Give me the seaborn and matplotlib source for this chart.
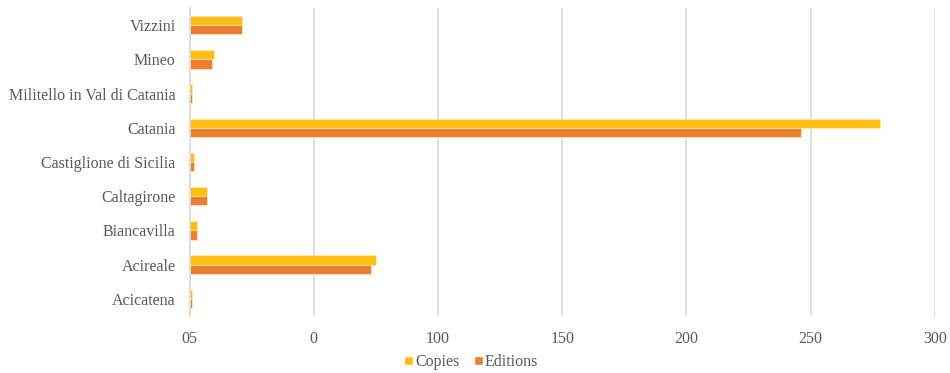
import matplotlib
matplotlib.use("Agg")
import matplotlib.pyplot as plt
import seaborn as sns
import pandas as pd
from matplotlib.patches import Patch

towns = ["Vizzini", "Mineo", "Militello in Val di Catania", "Catania",
         "Castiglione di Sicilia", "Caltagirone", "Biancavilla", "Acireale", "Acicatena"]
copies = [21, 10, 1, 278, 2, 7, 3, 75, 1]
editions = [21, 9, 1, 246, 2, 7, 3, 73, 1]
tick_values = [0, 50, 100, 150, 200, 250, 300]
tick_labels = ["05", "0", "100", "150", "200", "250", "300"]

df = pd.DataFrame({
    "town": towns * 2,
    "value": copies + editions,
    "series": ["Copies"] * len(towns) + ["Editions"] * len(towns),
})

sns.set_theme(style="white")
plt.rcParams["font.family"] = ["Liberation Serif", "DejaVu Serif"]

fig = plt.figure(figsize=(9.5, 3.73), dpi=100)
ax = fig.add_axes([0.1995, 0.153, 0.7845, 0.8256])

sns.barplot(data=df, x="value", y="town", hue="series", orient="h",
            order=towns, hue_order=["Copies", "Editions"],
            palette={"Copies": "#FDBF11", "Editions": "#ED7D31"},
            width=0.54, ax=ax, legend=False, saturation=1,
            edgecolor="#FFE9B0", linewidth=0.6)

ax.set_xlim(0, 300)
ax.set_xticks(tick_values)
ax.set_xticklabels(tick_labels)
ax.set_xlabel("")
ax.set_ylabel("")
ax.grid(axis="x", color="#D9D9D9", linewidth=1.2)
ax.grid(axis="y", visible=False)
ax.set_axisbelow(True)
for s in ["top", "right", "bottom"]:
    ax.spines[s].set_visible(False)
ax.spines["left"].set_color("#D9D9D9")
ax.spines["left"].set_linewidth(1.2)
ax.tick_params(axis="both", length=0, labelsize=11.5, colors="#595959")
ax.tick_params(axis="y", pad=10)
ax.tick_params(axis="x", pad=11)

handles = [Patch(facecolor="#FDBF11"), Patch(facecolor="#ED7D31")]
fig.legend(handles, ["Copies", "Editions"], loc="center", ncol=2,
           bbox_to_anchor=(0.496, 0.029), frameon=False, fontsize=11.5,
           handlelength=0.55, handleheight=0.55, handletextpad=0.15, columnspacing=0.9,
           labelcolor="#595959")

fig.savefig("out.png", dpi=100)
